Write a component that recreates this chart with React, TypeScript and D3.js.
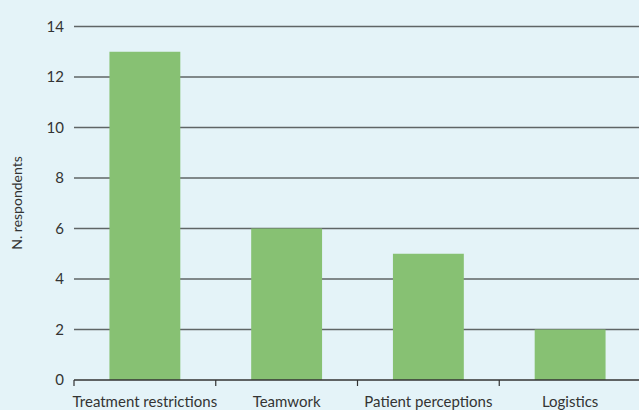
import React from "react";
import * as d3 from "d3";

const categories = ["Treatment restrictions", "Teamwork", "Patient perceptions", "Logistics"];
const values = [13, 6, 5, 2];
const yTicks = [0, 2, 4, 6, 8, 10, 12, 14];

const W = 639;
const H = 410;

export default function App() {
  const x = d3.scaleBand<string>().domain(categories).range([74, 641]).paddingInner(0.5).paddingOuter(0.25);
  const bandOuter = d3.scaleBand<string>().domain(categories).range([74, 641]);
  const y = d3.scaleLinear().domain([0, 14]).range([380, 26.5]);
  const font = "Lato, 'DejaVu Sans', sans-serif";
  return (
    <svg width={W} height={H} style={{ position: "absolute", left: 0, top: 0 }}>
      <rect x={0} y={0} width={W} height={H} fill="#e4f3f8" />
      {yTicks.filter((t) => t > 0).map((t) => (
        <line key={t} x1={74} x2={W} y1={y(t)} y2={y(t)} stroke="#5f6566" strokeWidth={1.5} />
      ))}
      {categories.map((c, i) => (
        <rect key={c} x={x(c)} y={y(values[i])} width={x.bandwidth()} height={y(0) - y(values[i])} fill="#87c173" />
      ))}
      <line x1={74} x2={W} y1={y(0)} y2={y(0)} stroke="#333" strokeWidth={1.5} />
      {categories.map((c) => (
        <line key={c} x1={bandOuter(c)} x2={bandOuter(c)} y1={y(0)} y2={y(0) + 6} stroke="#333" strokeWidth={1.2} />
      ))}
      {yTicks.map((t) => (
        <text key={t} x={64} y={y(t)} dy="0.35em" textAnchor="end" fontFamily={font} fontSize={15} fill="#333">
          {t}
        </text>
      ))}
      {categories.map((c) => (
        <text key={c} x={(bandOuter(c) as number) + bandOuter.bandwidth() / 2} y={407} textAnchor="middle" fontFamily={font} fontSize={15} fill="#333">
          {c}
        </text>
      ))}
      <text transform={`translate(22,203) rotate(-90)`} textAnchor="middle" fontFamily={font} fontSize={14} fill="#333">
        N. respondents
      </text>
    </svg>
  );
}
